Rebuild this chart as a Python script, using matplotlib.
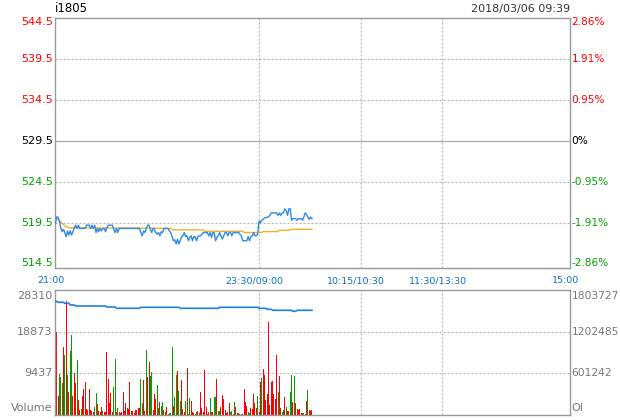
import matplotlib
matplotlib.use("Agg")
import matplotlib.pyplot as plt
from matplotlib.transforms import blended_transform_factory as btf, offset_copy
import numpy as np

# ---------------- data ----------------
symbol = "i1805"
timestamp = "2018/03/06 09:39"
prev_close = 529.5
axis_span = 379
time_ticks = [0, 150, 225, 285, 379]
time_labels = ["21:00", "23:30/09:00", "10:15/10:30", "11:30/13:30", "15:00"]
price_levels = [544.5, 539.5, 534.5, 529.5, 524.5, 519.5, 514.5]
pct_labels = ["2.86%", "1.91%", "0.95%", "0%", "-0.95%", "-1.91%", "-2.86%"]
vol_levels = [28310, 18873, 9437]
oi_levels = [1803727, 1202485, 601242]
vol_max = 28310
oi_max = 1803727

price = [
    519.4, 520.2, 520.2, 519.7, 518.9, 518.4, 518.7, 518.3, 517.8, 518.5,
    518.0, 518.5, 518.0, 518.4, 518.9, 519.2, 518.8, 519.2, 518.8, 518.8,
    518.8, 518.8, 518.8, 519.2, 519.2, 519.2, 518.8, 519.2, 518.8, 519.2,
    518.3, 518.8, 518.4, 518.8, 518.5, 518.8, 518.8, 518.4, 518.9, 519.2,
    519.2, 519.2, 519.2, 518.7, 518.3, 518.8, 518.3, 518.8, 518.8, 518.8,
    518.8, 518.8, 518.8, 518.8, 518.8, 518.8, 518.8, 518.8, 518.8, 518.8,
    518.8, 518.8, 518.8, 518.3, 517.9, 518.5, 518.3, 518.8, 519.2, 519.2,
    518.7, 518.3, 518.8, 518.7, 518.3, 518.1, 518.3, 517.9, 518.4, 518.3,
    518.8, 518.8, 518.8, 518.8, 518.5, 518.3, 517.8, 517.3, 517.4, 516.9,
    517.5, 516.9, 517.3, 517.8, 517.9, 518.3, 517.8, 517.9, 517.3, 517.7,
    517.9, 517.3, 517.8, 517.8, 517.3, 517.8, 517.9, 517.9, 518.1, 518.3,
    518.3, 518.3, 518.3, 517.9, 518.3, 517.7, 518.3, 518.3, 517.3, 517.7,
    517.9, 518.3, 517.9, 517.5, 517.9, 518.3, 518.3, 517.9, 518.3, 518.3,
    517.9, 518.3, 518.3, 518.3, 518.3, 518.3, 518.1, 517.9, 517.3, 517.3,
    517.3, 517.3, 517.8, 517.3, 517.8, 517.9, 518.3, 517.9, 517.9, 518.1,
    519.7, 519.5, 519.8, 519.9, 520.1, 520.1, 520.2, 520.2, 520.4, 520.7,
    520.7, 520.7, 520.7, 520.7, 520.4, 520.7, 520.4, 520.7, 520.7, 521.2,
    521.0, 520.4, 521.2, 521.2, 519.8, 520.0, 520.0, 520.0, 519.8, 520.0,
    520.0, 520.0, 519.8, 520.2, 520.7, 520.5, 520.2, 519.9, 520.2, 520.0,
]

avg_price = [
    519.8, 519.9, 519.9, 519.8, 519.6, 519.4, 519.3, 519.1, 519.0, 518.95,
    518.9, 518.88, 518.88, 518.88, 518.88, 518.88, 518.88, 518.88, 518.88, 518.88,
    518.88, 518.87, 518.87, 518.87, 518.87, 518.87, 518.87, 518.87, 518.87, 518.87,
    518.87, 518.86, 518.86, 518.86, 518.86, 518.86, 518.86, 518.86, 518.86, 518.86,
    518.86, 518.85, 518.85, 518.85, 518.85, 518.85, 518.85, 518.85, 518.85, 518.85,
    518.85, 518.85, 518.85, 518.85, 518.85, 518.85, 518.85, 518.85, 518.85, 518.85,
    518.85, 518.84, 518.84, 518.84, 518.84, 518.84, 518.84, 518.84, 518.84, 518.84,
    518.84, 518.84, 518.84, 518.84, 518.84, 518.84, 518.82, 518.82, 518.82, 518.82,
    518.82, 518.82, 518.82, 518.82, 518.82, 518.82, 518.62, 518.62, 518.62, 518.62,
    518.62, 518.62, 518.62, 518.62, 518.62, 518.62, 518.62, 518.62, 518.62, 518.62,
    518.62, 518.62, 518.62, 518.62, 518.62, 518.62, 518.62, 518.62, 518.62, 518.62,
    518.45, 518.45, 518.45, 518.45, 518.45, 518.45, 518.45, 518.45, 518.45, 518.45,
    518.45, 518.45, 518.45, 518.45, 518.45, 518.45, 518.45, 518.45, 518.45, 518.45,
    518.45, 518.45, 518.45, 518.45, 518.45, 518.45, 518.45, 518.45, 518.45, 518.3,
    518.3, 518.3, 518.3, 518.3, 518.3, 518.3, 518.3, 518.3, 518.3, 518.3,
    518.3, 518.3, 518.3, 518.42, 518.42, 518.42, 518.42, 518.42, 518.42, 518.42,
    518.42, 518.42, 518.42, 518.42, 518.42, 518.58, 518.58, 518.58, 518.58, 518.58,
    518.58, 518.58, 518.58, 518.58, 518.7, 518.7, 518.7, 518.7, 518.7, 518.7,
    518.7, 518.7, 518.7, 518.7, 518.7, 518.7, 518.7, 518.7, 518.7, 518.7,
]

volume = [
    19710, 18800, 4300, 9290, 8610, 7250, 15400, 13590, 25820, 9060,
    5210, 14500, 18120, 4300, 9510, 7250, 12460, 3400, 1130, 1360,
    4300, 5890, 7470, 1360, 1130, 5890, 1130, 910, 680, 1810,
    4980, 2490, 910, 680, 1810, 910, 680, 680, 14270, 8150,
    2720, 4980, 680, 6340, 12680, 680, 1590, 680, 450, 680,
    5210, 910, 2720, 1590, 1360, 7470, 910, 910, 450, 1130,
    1130, 1590, 1590, 8150,
    2720, 7930, 910, 14720, 8610, 12000, 8830, 9740, 1130, 4760,
    3620, 6800, 1590, 2950, 2040, 2950, 1130, 680, 1810, 230,
    450, 450, 15400, 2040, 4080, 9060, 9970, 5440, 3170, 7930,
    1360, 680, 3170, 10650, 230, 3850, 3170, 680, 450, 230,
    680, 910, 450, 5210, 1590, 680, 10190, 1810, 230, 680,
    3850, 680, 680, 4080, 4080, 8150, 910, 910, 1810, 4530,
    3620, 1130, 450, 680,
    2720, 680, 910, 230, 2950, 1810, 450, 450, 230, 230,
    230, 5890, 2950, 2040, 680, 450, 1590, 1360, 4760, 2720,
    1590, 4300,
    680, 7470, 8380, 10420, 9060, 3400, 4760, 21070, 2270, 7470,
    7700, 4760, 3620, 13590, 5210, 8830, 1590, 680, 1130, 4080,
    1810, 910, 910, 5210, 9060, 2950, 8830, 2720, 1360, 1130,
    1360, 450, 450, 450, 230, 3170, 5660, 1130, 910, 1130,
]

bar_dir = (
    "rrrgggrgrg" "rggrrrgrrg" "rrrrrrrrrg" "grrrrgrrrr" "rrrggrgrrr"
    "rrrrrrrrrr" "rrrg"
    "grrgrrggrr" "rggrggrrrg" "gggrggrggr" "rrgrrgrrrg" "grrrrrrrrr"
    "grrggrggrr" "rrrr"
    "rggrgrrrgg" "rrrrggrrrr" "rg"
    "rrgrrrrrrr" "rrrrgrrggr" "grrggrgrrr" "rrrgrrgrrr"
)

open_interest = [
    1640612, 1640612, 1626180, 1626180, 1626180, 1626180, 1626180, 1611760, 1611760, 1611760,
    1611760, 1587300, 1587300, 1587300, 1587300, 1572830, 1572830, 1572830, 1572830, 1572830,
    1572830, 1572830, 1572830, 1572830, 1572830, 1572830, 1572830, 1572830, 1572830, 1572830,
    1572830, 1572830, 1572830, 1572830, 1572830, 1572830, 1572830, 1572830, 1558400, 1558400,
    1558400, 1558400, 1558400, 1558400, 1558400, 1539640, 1539640, 1539640, 1539640, 1539640,
    1539640, 1539640, 1539640, 1539640, 1539640, 1539640, 1539640, 1539640, 1539640, 1539640,
    1539640, 1539640, 1539640, 1554060, 1554060, 1554060, 1554060, 1554060, 1554060, 1554060,
    1554060, 1554060, 1554060, 1554060, 1554060, 1554060, 1554060, 1554060, 1554060, 1554060,
    1554060, 1554060, 1554060, 1554060, 1554060, 1554060, 1554060, 1554060, 1554060, 1554060,
    1554060, 1554060, 1539640, 1539640, 1539640, 1539640, 1539640, 1539640, 1539640, 1539640,
    1539640, 1539640, 1539640, 1539640, 1539640, 1539640, 1539640, 1539640, 1539640, 1539640,
    1539640, 1539640, 1539640, 1539640, 1539640, 1539640, 1539640, 1539640, 1539640, 1539640,
    1539640, 1554060, 1554060, 1554060, 1554060, 1554060, 1554060, 1554060, 1554060, 1554060,
    1554060, 1554060, 1554060, 1554060, 1554060, 1554060, 1554060, 1554060, 1554060, 1554060,
    1554060, 1554060, 1554060, 1554060, 1554060, 1554060, 1554060, 1554060, 1554060, 1554060,
    1539640, 1539640, 1539640, 1539640, 1539640, 1539640, 1525210, 1525210, 1525210, 1525210,
    1510780, 1510780, 1510780, 1510780, 1510780, 1510780, 1510780, 1510780, 1510780, 1510780,
    1510780, 1510780, 1510780, 1510780, 1510780, 1496350, 1496350, 1496350, 1510780, 1510780,
    1510780, 1510780, 1510780, 1510780, 1510780, 1510780, 1510780, 1510780, 1510780, 1510780,
]

# ---------------- styling ----------------
RED = "#ff0000"
GREEN = "#00a000"
BLUE_T = "#0a70c4"
GRID = "#b2b2b2"
FRAME = "#999999"
plt.rcParams["font.family"] = ["DejaVu Sans"]

W, H = 620, 420
fig = plt.figure(figsize=(W / 100, H / 100), dpi=100)
fig.patch.set_facecolor("white")


def rect(l, t, r, b):
    return [l / W, 1 - b / H, (r - l) / W, (b - t) / H]


ax = fig.add_axes(rect(55.3, 18.3, 570, 267.7))
axv = fig.add_axes(rect(55.3, 290, 570, 415))

for a in (ax, axv):
    a.set_xlim(0, axis_span)
    a.set_xticks([])
    a.set_yticks([])
    for s in a.spines.values():
        s.set_color(FRAME)
        s.set_linewidth(1.0)
    for t in time_ticks[1:-1]:
        a.axvline(t, color=GRID, lw=0.8, ls=(0, (1.8, 1.8)), zorder=1)

ax.set_ylim(514.0, 544.5)
axv.set_ylim(0, vol_max)

# horizontal grid (price)
for lv in price_levels[1:-1]:
    if lv == prev_close:
        ax.axhline(lv, color="#aaaaaa", lw=0.9, zorder=1)
    else:
        ax.axhline(lv, color=GRID, lw=0.8, ls=(0, (1.8, 1.8)), zorder=1)
for lv in vol_levels[1:]:
    axv.axhline(lv, color=GRID, lw=0.8, ls=(0, (1.8, 1.8)), zorder=1)

x = np.arange(len(price))
ax.plot(x, avg_price, color="#f5ae2a", lw=1.0, zorder=3)
ax.plot(x, price, color="#2f8be0", lw=1.0, zorder=4)

cols = [RED if c == "r" else GREEN for c in bar_dir]
axv.bar(np.arange(len(volume)), volume, width=0.74, color=cols, linewidth=0,
        antialiased=False, zorder=2)

axo = axv.twinx()
axo.set_ylim(0, oi_max)
axo.set_yticks([])
for s in axo.spines.values():
    s.set_visible(False)
axo.plot(np.arange(len(open_interest)), open_interest, color="#1f80dc", lw=1.2, zorder=5)


def lab(axis, xa, yv, s, dx, dy, **kw):
    tr = offset_copy(btf(axis.transAxes, axis.transData), fig=fig, x=dx, y=dy, units="dots")
    axis.text(xa, yv, s, transform=tr, clip_on=False, **kw)


n = len(price_levels)
for i, (lv, pl) in enumerate(zip(price_levels, pct_labels)):
    if lv > prev_close:
        c = RED
    elif lv < prev_close:
        c = GREEN
    else:
        c = "black"
    dy = -4.2 if i == 0 else (0.6 if i == n - 1 else 0)
    lab(ax, 0, lv, f"{lv:.1f}", -2.3, dy, ha="right", va="center", fontsize=8, color=c)
    lab(ax, 1, lv, pl, 1.5, dy, ha="left", va="center", fontsize=7.6, color=c)

GRAYT = "#777777"
for i, (vv, ov) in enumerate(zip(vol_levels, oi_levels)):
    dy = -5.8 if i == 0 else 0
    lab(axv, 0, vv, str(vv), -3, dy, ha="right", va="center", fontsize=8, color=GRAYT)
    lab(axv, 1, vv, str(ov), 1.5, dy, ha="left", va="center", fontsize=7.7, color=GRAYT)
lab(axv, 0, 0, "Volume", -3, 7, ha="right", va="center", fontsize=8, color=GRAYT)
lab(axv, 1, 0, "OI", 1.5, 7, ha="left", va="center", fontsize=8, color=GRAYT)

# time labels between panels
trt = offset_copy(btf(ax.transData, fig.transFigure), fig=fig, x=-4.6, y=0, units="dots")
for t, s in zip(time_ticks, time_labels):
    ax.text(t, 1 - 280.5 / H, s, transform=trt, ha="center", va="center",
            fontsize=6.8, color=BLUE_T, clip_on=False)

fig.text(55 / W, 1 - 9 / H, symbol, ha="left", va="center", fontsize=8.5, color="black")
fig.text(570 / W, 1 - 9 / H, timestamp, ha="right", va="center", fontsize=8, color="#333333")

fig.savefig("out.png", dpi=100, facecolor="white")
